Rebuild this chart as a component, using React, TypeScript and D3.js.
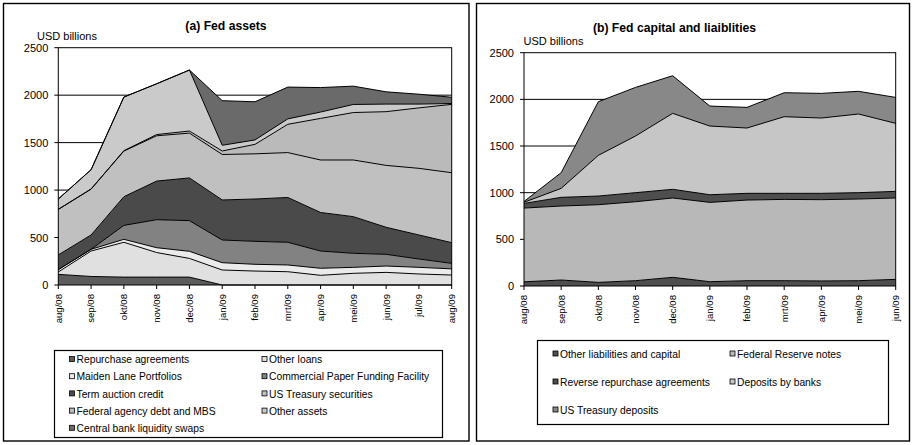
import React from "react";
import * as d3 from "d3";

// ---------- Panel (a): Fed assets ----------
const monthsA = ["aug/08", "sep/08", "okt/08", "nov/08", "dec/08", "jan/09", "feb/09", "mrt/09", "apr/09", "mei/09", "jun/09", "jul/09", "aug/09"];
const repurchaseAgreements = [112, 90, 83, 83, 83, 0, 0, 0, 0, 0, 0, 0, 0];
const otherLoans = [25, 268, 367, 259, 197, 158, 147, 140, 102, 123, 133, 116, 105];
const maidenLane = [25, 18, 31, 51, 75, 77, 71, 71, 74, 63, 67, 70, 65];
const commercialPaper = [0, 0, 147, 295, 323, 239, 242, 239, 182, 148, 123, 88, 58];
const termAuctionCredit = [155, 151, 302, 407, 450, 422, 446, 472, 406, 386, 285, 253, 218];
const usTreasurySecurities = [480, 484, 481, 477, 472, 479, 476, 473, 553, 597, 652, 702, 737];
const agencyDebtMbs = [0, 0, 4, 13, 22, 37, 100, 298, 438, 500, 566, 637, 720];
const otherAssets = [109, 204, 565, 535, 643, 60, 46, 57, 67, 85, 80, 40, 9];
const cbLiquiditySwaps = [0, 0, 0, 0, 0, 470, 402, 335, 258, 193, 129, 104, 66];

const seriesNamesA = [
  "Repurchase agreements",
  "Other loans",
  "Maiden Lane Portfolios",
  "Commercial Paper Funding Facility",
  "Term auction credit",
  "US Treasury securities",
  "Federal agency debt and MBS",
  "Other assets",
  "Central bank liquidity swaps",
];
const seriesValuesA = [repurchaseAgreements, otherLoans, maidenLane, commercialPaper, termAuctionCredit, usTreasurySecurities, agencyDebtMbs, otherAssets, cbLiquiditySwaps];
const colorsA = ["#5c5c5c", "#e0e0e0", "#ebebeb", "#828282", "#4a4a4a", "#c0c0c0", "#bababa", "#cacaca", "#6a6a6a"];

// ---------- Panel (b): Fed capital and liabilities ----------
const monthsB = ["aug/08", "sep/08", "okt/08", "nov/08", "dec/08", "jan/09", "feb/09", "mrt/09", "apr/09", "mei/09", "jun/09"];
const otherLiabilities = [45, 64, 39, 57, 93, 46, 57, 57, 54, 57, 71];
const reserveNotes = [790, 793, 832, 846, 850, 850, 864, 871, 871, 875, 872];
const reverseRepo = [50, 93, 93, 97, 93, 82, 72, 65, 68, 68, 71];
const bankDeposits = [12, 96, 436, 607, 814, 736, 700, 821, 807, 843, 729];
const treasuryDeposits = [9, 168, 575, 521, 403, 214, 221, 257, 264, 243, 278];

const seriesNamesB = [
  "Other liabilities and capital",
  "Federal Reserve notes",
  "Reverse repurchase agreements",
  "Deposits by banks",
  "US Treasury deposits",
];
const seriesValuesB = [otherLiabilities, reserveNotes, reverseRepo, bankDeposits, treasuryDeposits];
const colorsB = ["#4e4e4e", "#b8b8b8", "#4e4e4e", "#c6c6c6", "#888888"];

const yTicks = [0, 500, 1000, 1500, 2000, 2500];

const FONT = "'Liberation Sans', Arial, Helvetica, sans-serif";

type PanelProps = {
  months: string[];
  names: string[];
  values: number[][];
  colors: string[];
  plot: { x0: number; x1: number; y0: number; y1: number };
  title: string;
  titleX: number;
  titleY: number;
  unitX: number;
  unitY: number;
  xLabelTop: number;
  legend: { x: number; y: number; w: number; h: number; col1: number; col2: number; row0: number; rowStep: number };
};

function Panel(p: PanelProps) {
  const x = d3.scalePoint<string>().domain(p.months).range([p.plot.x0, p.plot.x1]).padding(0);
  const y = d3.scaleLinear().domain([0, 2500]).range([p.plot.y0, p.plot.y1]);
  const keys = p.names.map((_, i) => "s" + i);
  const rows = p.months.map((m, j) => {
    const r: any = { month: m };
    p.values.forEach((arr, i) => (r["s" + i] = arr[j]));
    return r;
  });
  const stacked = d3.stack<any>().keys(keys)(rows);
  const area = d3
    .area<any>()
    .x((d) => x(d.data.month) as number)
    .y0((d) => y(d[0]))
    .y1((d) => y(d[1]));
  const line = d3
    .line<any>()
    .x((d) => x(d.data.month) as number)
    .y((d) => y(d[1]));
  const { x0, x1, y0, y1 } = p.plot;
  const L = p.legend;
  return (
    <g>
      <text x={p.titleX} y={p.titleY} textAnchor="middle" fontWeight="bold" fontSize={12.2} fontFamily={FONT}>
        {p.title}
      </text>
      <text x={p.unitX} y={p.unitY} fontSize={11} fontFamily={FONT}>
        USD billions
      </text>
      {yTicks.slice(1, -1).map((t) => (
        <line key={"g" + t} x1={x0} x2={x1} y1={y(t)} y2={y(t)} stroke="#000" strokeWidth={1} />
      ))}
      {stacked.map((s, i) => (
        <path key={"a" + i} d={area(s) as string} fill={p.colors[i]} stroke="none" />
      ))}
      {stacked.map((s, i) => (
        <path key={"l" + i} d={line(s) as string} fill="none" stroke="#000" strokeWidth={1} strokeLinejoin="round" />
      ))}
      <rect x={x0} y={y1} width={x1 - x0} height={y0 - y1} fill="none" stroke="#000" strokeWidth={1} />
      {yTicks.map((t) => (
        <g key={"yt" + t}>
          <line x1={x0 - 4} x2={x0} y1={y(t)} y2={y(t)} stroke="#000" />
          <text x={x0 - 10} y={y(t)} dy="0.36em" textAnchor="end" fontSize={11} fontFamily={FONT}>
            {t}
          </text>
        </g>
      ))}
      {p.months.map((m) => (
        <g key={"xt" + m}>
          <line x1={x(m)} x2={x(m)} y1={y0} y2={y0 + 4} stroke="#000" />
          <text
            transform={`translate(${x(m)},${p.xLabelTop}) rotate(-90)`}
            dy="0.35em"
            textAnchor="end"
            fontSize={9.6}
            fontFamily={FONT}
          >
            {m}
          </text>
        </g>
      ))}
      <rect x={L.x} y={L.y} width={L.w} height={L.h} fill="#fff" stroke="#000" strokeWidth={1.2} />
      {p.names.map((n, i) => {
        const r = Math.floor(i / 2);
        const c = i % 2;
        const cx = c === 0 ? L.col1 : L.col2;
        const cy = L.row0 + r * L.rowStep;
        return (
          <g key={"lg" + i}>
            <rect x={cx} y={cy - 3} width={5} height={5} fill={p.colors[i]} stroke="#000" strokeWidth={0.8} />
            <text x={cx + 7} y={cy} dy="0.35em" fontSize={10.3} fontFamily={FONT}>
              {n}
            </text>
          </g>
        );
      })}
    </g>
  );
}

export default function App() {
  return (
    <svg
      width={913}
      height={445}
      viewBox="0 0 913 445"
      style={{ position: "absolute", left: 0, top: 0, background: "#fff" }}
    >
      <rect x={0} y={0} width={913} height={445} fill="#fff" />
      <rect x={3.5} y={3.5} width={465.5} height={437.5} fill="none" stroke="#000" strokeWidth={1.4} />
      <rect x={476.5} y={3.5} width={433} height={437.5} fill="none" stroke="#000" strokeWidth={1.4} />
      <Panel
        months={monthsA}
        names={seriesNamesA}
        values={seriesValuesA}
        colors={colorsA}
        plot={{ x0: 58.3, x1: 451.7, y0: 285, y1: 47.7 }}
        title="(a) Fed assets"
        titleX={226}
        titleY={30}
        unitX={37}
        unitY={39.5}
        xLabelTop={294}
        legend={{ x: 54.5, y: 350.5, w: 388, h: 87, col1: 69.5, col2: 262, row0: 359.5, rowStep: 17.2 }}
      />
      <Panel
        months={monthsB}
        names={seriesNamesB}
        values={seriesValuesB}
        colors={colorsB}
        plot={{ x0: 524, x1: 895.7, y0: 286, y1: 52.7 }}
        title="(b) Fed capital and liaiblities"
        titleX={674.5}
        titleY={31.5}
        unitX={523.5}
        unitY={45}
        xLabelTop={295}
        legend={{ x: 537.5, y: 340.5, w: 351, h: 84, col1: 553, col2: 730, row0: 354, rowStep: 28 }}
      />
    </svg>
  );
}
